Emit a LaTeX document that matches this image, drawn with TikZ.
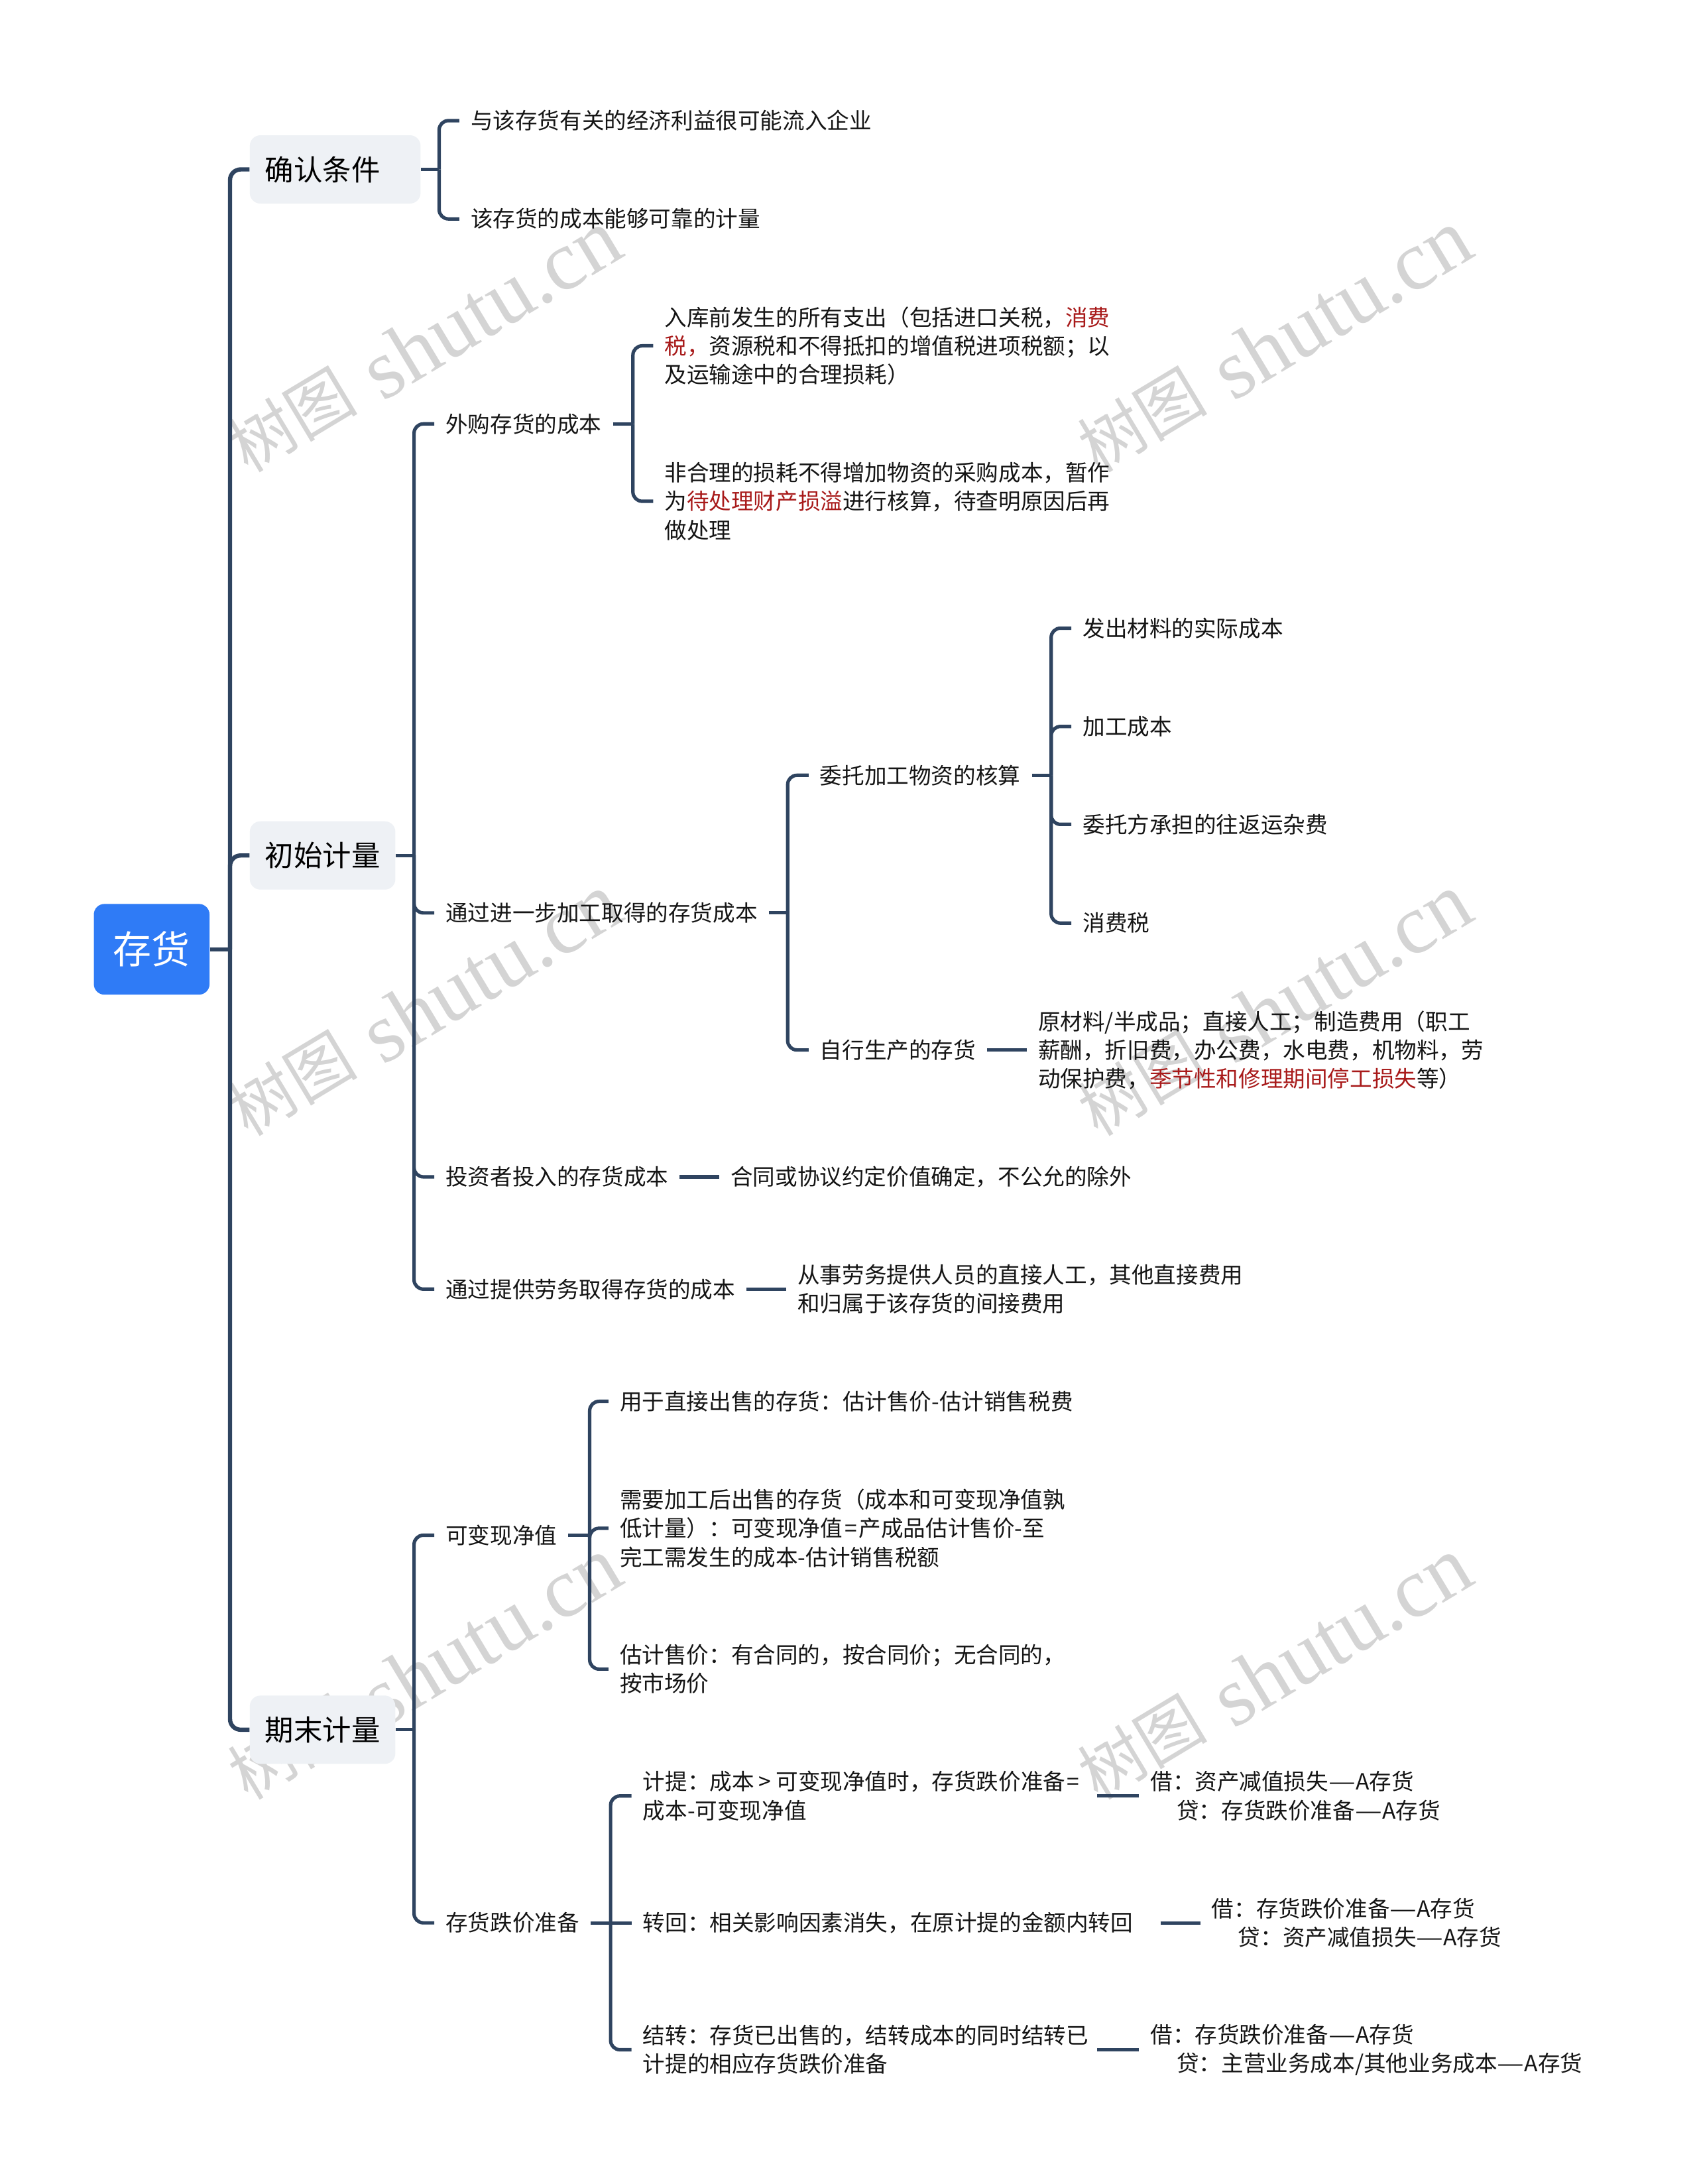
\documentclass[tikz,border=0pt]{standalone}
\usepackage{graphicx}
\usepackage{fontspec}
\setmainfont{Noto Sans CJK SC}
\newfontfamily\wmserif{Liberation Serif}
\definecolor{linecol}{HTML}{2F4460}
\definecolor{boxcol}{HTML}{EEF1F5}
\definecolor{rootcol}{HTML}{2F7BF6}
\definecolor{txtcol}{HTML}{151515}
\definecolor{redtxt}{HTML}{A81A1A}
\definecolor{wmcol}{HTML}{D4D4D4}
\newcommand{\acctdash}{\scalebox{1.36}[1]{—}}
\tikzset{
  link/.style={draw=linecol,line width=2.6pt,rounded corners=7pt},
  mainlink/.style={draw=linecol,line width=3.2pt,rounded corners=8pt},
  leaf/.style={anchor=west,align=left,inner xsep=8.4pt,inner ysep=1pt,text=txtcol,
    font=\fontsize{16.8pt}{21.6pt}\selectfont},
  topic/.style={anchor=west,fill=boxcol,rounded corners=8pt,inner xsep=11.5pt,inner ysep=0pt,
    minimum height=51.5pt,text=black,font=\fontsize{21.7pt}{26pt}\selectfont},
  rootbox/.style={fill=rootcol,rounded corners=8pt,minimum width=87.3pt,minimum height=68.4pt,
    text=white,font=\fontsize{29pt}{34pt}\selectfont}
}
\begin{document}
\begin{tikzpicture}[x=1.0516pt,y=-1.0516pt]
  \useasboundingbox (0,0) rectangle (1217.2,1566.3);
  \fill[white] (0,0) rectangle (1217.2,1566.3);

  \foreach \wx in {304,914}
    \foreach \wy in {245,721,1197}
      \node[rotate=31,text=wmcol,font=\fontsize{49pt}{60pt}\selectfont] (wm\wx\wy) at (\wx,\wy) {\raisebox{6pt}{树图}\kern6pt\ {\wmserif\fontsize{64pt}{70pt}\selectfont shutu.cn}};

  \node[rootbox] (root) at (108.8,680.8) {存货};
  \node[topic] (cond) at (179,121.5) {确认条件\kern19pt};
  \node[topic] (init) at (179,613.5) {初始计量};
  \node[topic] (term) at (179,1240.5) {期末计量};

  \coordinate (jroot) at (165,680.8);
  \draw[mainlink] (root.east) -- (jroot);
  \foreach \c in {cond,init,term}
    \draw[mainlink] (jroot) |- (\c.west);

  \node[leaf] (cond1) at (329.5,86.5) {与该存货有关的经济利益很可能流入企业};
  \node[leaf] (cond2) at (329.5,157) {该存货的成本能够可靠的计量};
  \coordinate (jcond) at (315,121.5);
  \draw[link] (cond.east) -- (jcond);
  \foreach \c in {cond1,cond2}
    \draw[link] (jcond) |- (\c.west);

  \node[leaf] (buy) at (311.5,304) {外购存货的成本};
  \node[leaf] (proc) at (311.5,654.7) {通过进一步加工取得的存货成本};
  \node[leaf] (inv) at (311.5,844) {投资者投入的存货成本};
  \node[leaf] (serv) at (311.5,924.5) {通过提供劳务取得存货的成本};
  \coordinate (jinit) at (297,613.5);
  \draw[link] (init.east) -- (jinit);
  \foreach \c in {buy,proc,inv,serv}
    \draw[link] (jinit) |- (\c.west);

  \node[leaf] (buy1) at (468.5,248) {入库前发生的所有支出（包括进口关税，\textcolor{redtxt}{消费}\\\textcolor{redtxt}{税，}资源税和不得抵扣的增值税进项税额；以\\及运输途中的合理损耗）};
  \node[leaf] (buy2) at (468.5,359.5) {非合理的损耗不得增加物资的采购成本，暂作\\为\textcolor{redtxt}{待处理财产损溢}进行核算，待查明原因后再\\做处理};
  \coordinate (jbuy) at (454,304);
  \draw[link] (buy.east) -- (jbuy);
  \foreach \c in {buy1,buy2}
    \draw[link] (jbuy) |- (\c.west);

  \node[leaf] (ent) at (580,556) {委托加工物资的核算};
  \node[leaf] (self) at (580,753) {自行生产的存货};
  \coordinate (jproc) at (565,654.7);
  \draw[link] (proc.east) -- (jproc);
  \foreach \c in {ent,self}
    \draw[link] (jproc) |- (\c.west);

  \node[leaf] (ent1) at (768.5,450.5) {发出材料的实际成本};
  \node[leaf] (ent2) at (768.5,521) {加工成本};
  \node[leaf] (ent3) at (768.5,591.2) {委托方承担的往返运杂费};
  \node[leaf] (ent4) at (768.5,662) {消费税};
  \coordinate (jent) at (754,556);
  \draw[link] (ent.east) -- (jent);
  \foreach \c in {ent1,ent2,ent3,ent4}
    \draw[link] (jent) |- (\c.west);

  \node[leaf] (self1) at (736.5,753) {原材料/半成品；直接人工；制造费用（职工\\薪酬，折旧费，办公费，水电费，机物料，劳\\动保护费，\textcolor{redtxt}{季节性和修理期间停工损失}等）};
  \draw[link] (self.east) -- (self1.west);
  \node[leaf] (inv1) at (516,844) {合同或协议约定价值确定，不公允的除外};
  \draw[link] (inv.east) -- (inv1.west);
  \node[leaf] (serv1) at (564,924.5) {从事劳务提供人员的直接人工，其他直接费用\\和归属于该存货的间接费用};
  \draw[link] (serv.east) -- (serv1.west);

  \node[leaf] (nrv) at (311.5,1101) {可变现净值};
  \node[leaf] (prov) at (311.5,1379) {存货跌价准备};
  \coordinate (jterm) at (297,1240.5);
  \draw[link] (term.east) -- (jterm);
  \foreach \c in {nrv,prov}
    \draw[link] (jterm) |- (\c.west);

  \node[leaf] (nrv1) at (436.5,1005) {用于直接出售的存货：估计售价-估计销售税费};
  \node[leaf] (nrv2) at (436.5,1096) {需要加工后出售的存货（成本和可变现净值孰\\低计量）：可变现净值\kern1.5pt=\kern1.5pt产成品估计售价-至\\完工需发生的成本-估计销售税额};
  \node[leaf] (nrv3) at (436.5,1197) {估计售价：有合同的，按合同价；无合同的，\\按市场价};
  \coordinate (jnrv) at (423,1101);
  \draw[link] (nrv.east) -- (jnrv);
  \foreach \c in {nrv1,nrv2,nrv3}
    \draw[link] (jnrv) |- (\c.west);

  \node[leaf,text width=334pt] (accr) at (453,1288) {计提：成本\hspace{3.5pt}>\hspace{3.5pt}可变现净值时，存货跌价准备\kern1pt=\\成本-可变现净值};
  \node[leaf,text width=381.8pt] (back) at (453,1379) {转回：相关影响因素消失，在原计提的金额内转回};
  \node[leaf,text width=334pt] (carry) at (453,1470) {结转：存货已出售的，结转成本的同时结转已\\计提的相应存货跌价准备};
  \coordinate (jprov) at (438,1379);
  \draw[link] (prov.east) -- (jprov);
  \draw[link] (jprov) -- (back.west);
  \foreach \c in {accr,carry}
    \draw[link] (jprov) |- (\c.west);

  \node[leaf] (accr1) at (817,1288) {借：资产减值损失\acctdash A存货\\\hspace{20pt}贷：存货跌价准备\acctdash A存货};
  \draw[link] (accr.east) -- (accr1.west);
  \node[leaf] (back1) at (861,1379) {借：存货跌价准备\acctdash A存货\\\hspace{20pt}贷：资产减值损失\acctdash A存货};
  \draw[link] (back.east) -- (back1.west);
  \node[leaf] (carry1) at (817,1470) {借：存货跌价准备\acctdash A存货\\\hspace{20pt}贷：主营业务成本/其他业务成本\acctdash A存货};
  \draw[link] (carry.east) -- (carry1.west);
\end{tikzpicture}
\end{document}
